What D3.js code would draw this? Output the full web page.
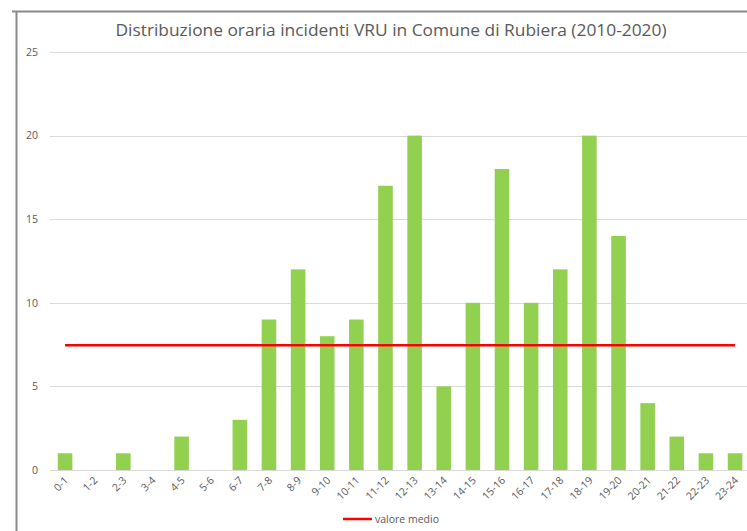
<!DOCTYPE html>
<html>
<head>
<meta charset="utf-8">
<script src="https://cdn.jsdelivr.net/npm/d3@7"></script>
<style>
  html, body { margin: 0; padding: 0; background: #fff; }
  svg { display: block; }
</style>
</head>
<body>
<svg id="chart" width="747" height="531"></svg>
<script>
// Hourly slots and number of VRU accidents per slot
const hours = ["0-1","1-2","2-3","3-4","4-5","5-6","6-7","7-8","8-9","9-10","10-11","11-12",
               "12-13","13-14","14-15","15-16","16-17","17-18","18-19","19-20","20-21","21-22","22-23","23-24"];
const incidents = [1,0,1,0,2,0,3,9,12,8,9,17,20,5,10,18,10,12,20,14,4,2,1,1];
const yTicks = [0,5,10,15,20,25];
const titleText = "Distribuzione oraria incidenti VRU in Comune di Rubiera (2010-2020)";
const legendLabel = "valore medio";

const meanValue = d3.mean(incidents);

const svg = d3.select("#chart");
const font = "'Open Sans', 'Liberation Sans', sans-serif";
const textColor = "#595959";

// frame of the chart area
svg.append("line").attr("x1", 16.5).attr("x2", 16.5).attr("y1", 11).attr("y2", 531)
  .attr("stroke", "#8a8a8a").attr("stroke-width", 2);
svg.append("line").attr("x1", 12).attr("x2", 747).attr("y1", 11.5).attr("y2", 11.5)
  .attr("stroke", "#8a8a8a").attr("stroke-width", 2);

const x = d3.scaleBand().domain(hours).range([50.5, 749.6]).paddingInner(0.5).paddingOuter(0.25);
const y = d3.scaleLinear().domain([0, 25]).range([470, 52]);

// gridlines
svg.append("g").selectAll("line").data(yTicks).join("line")
  .attr("x1", 50).attr("x2", 747)
  .attr("y1", d => Math.round(y(d)) + 0.5).attr("y2", d => Math.round(y(d)) + 0.5)
  .attr("stroke", "#d9d9d9").attr("stroke-width", 1);

// y axis labels
const yAxis = d3.axisLeft(y).tickValues(yTicks).tickSize(0).tickPadding(0);
const yg = svg.append("g").attr("transform", "translate(38,0)").call(yAxis);
yg.select(".domain").remove();
yg.selectAll("text").attr("font-family", font).attr("font-size", 10.5).attr("fill", textColor);

// bars
svg.append("g").selectAll("rect").data(incidents).join("rect")
  .attr("x", (d, i) => x(hours[i]))
  .attr("width", x.bandwidth())
  .attr("y", d => y(d))
  .attr("height", d => y(0) - y(d))
  .attr("fill", "#92D050");

// x axis
const xAxis = d3.axisBottom(x).tickSize(0).tickPadding(0);
const xg = svg.append("g").attr("transform", "translate(0,470)").call(xAxis);
xg.select(".domain").attr("stroke", "#d9d9d9");
xg.selectAll("text")
  .attr("font-family", font).attr("font-size", 10.5).attr("fill", textColor)
  .attr("text-anchor", "end").attr("dy", null).attr("y", 0)
  .attr("transform", "translate(4,11) rotate(-45)");

// mean line
const xFirst = x(hours[0]) + x.bandwidth() / 2;
const xLast = x(hours[hours.length - 1]) + x.bandwidth() / 2;
svg.append("line").attr("x1", xFirst).attr("x2", xLast)
  .attr("y1", y(meanValue)).attr("y2", y(meanValue))
  .attr("stroke", "#FF0000").attr("stroke-width", 2.5);

// title
const title = svg.append("text").attr("x", 391).attr("y", 36)
  .attr("text-anchor", "middle").attr("font-family", font).attr("font-size", 16)
  .attr("fill", textColor).text(titleText);
title.attr("textLength", 551).attr("lengthAdjust", "spacingAndGlyphs");

// legend
svg.append("line").attr("x1", 343).attr("x2", 372).attr("y1", 519).attr("y2", 519)
  .attr("stroke", "#FF0000").attr("stroke-width", 2.5);
svg.append("text").attr("x", 375).attr("y", 523)
  .attr("font-family", font).attr("font-size", 10.5).attr("fill", textColor).text(legendLabel);
</script>
</body>
</html>
